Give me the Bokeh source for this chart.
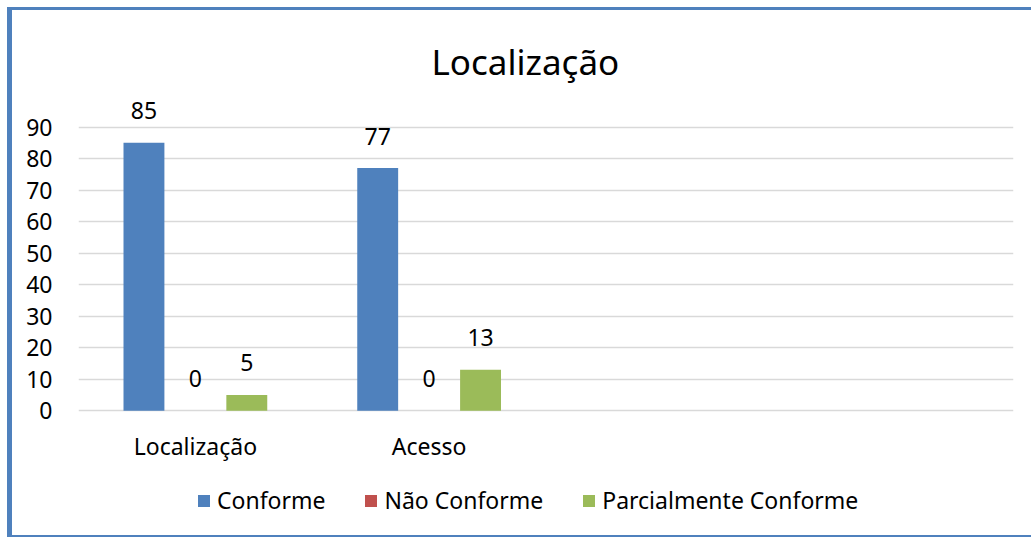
from bokeh.plotting import figure
from bokeh.models import FactorRange, FixedTicker, Legend, LegendItem, ColumnDataSource
from bokeh.transform import dodge
from bokeh.embed import file_html
from bokeh.resources import INLINE

categories = ["Localização", "Acesso", " ", "  "]
data_cats = ["Localização", "Acesso"]
conforme = [85, 77]
nao_conforme = [0, 0]
parcial = [5, 13]
series_names = ["Conforme", "Não Conforme", "Parcialmente Conforme"]
colors = ["#4f81bd", "#c0504d", "#9bbb59"]
y_ticks = [0, 10, 20, 30, 40, 50, 60, 70, 80, 90]

FONT = "Noto Sans"

p = figure(frame_width=935, frame_height=435,
           x_range=FactorRange(factors=categories, range_padding=0),
           y_range=(-38, 100), output_backend="svg", toolbar_location=None,
           min_border_left=66, min_border_right=18, min_border_top=85, min_border_bottom=5)
p.styles = {"margin-left": "7px", "margin-top": "7px",
            "border-left": "5px solid #4f81bd", "border-top": "3px solid #4f81bd",
            "border-bottom": "2px solid #4f81bd"}
p.outline_line_color = None

p.title.text = "Localização"
p.title.align = "left"
p.title.text_font = FONT
p.title.text_font_size = "35px"
p.title.text_font_style = "normal"
p.title.text_color = "#000000"
p.title.standoff = 21
p.title.offset = 353

source = ColumnDataSource(dict(cat=data_cats, c=conforme, n=nao_conforme, pc=parcial,
                               cl=[str(v) for v in conforme], nl=[str(v) for v in nao_conforme],
                               pl=[str(v) for v in parcial]))

offs = [-0.22, 0.0, 0.22]
fields = ["c", "n", "pc"]
lfields = ["cl", "nl", "pl"]
renderers = []
for off, f, lf, col in zip(offs, fields, lfields, colors):
    r = p.vbar(x=dodge("cat", off, range=p.x_range), top=f, width=0.175, source=source,
               fill_color=col, line_color=None)
    renderers.append(r)
    p.text(x=dodge("cat", off, range=p.x_range), y=f, text=lf, source=source,
           text_align="center", text_baseline="alphabetic", y_offset=-32,
           text_font_size="23px", text_color="#000000", text_font={"value": FONT})

# category labels along the (hidden) categorical axis, placed by the x scale
cat_src = ColumnDataSource(dict(cat=categories))
p.text(x="cat", y=0, text="cat", source=cat_src, text_align="center",
       text_baseline="alphabetic", y_offset=35, text_font_size="23px",
       text_color="#000000", text_font={"value": FONT})

p.yaxis.ticker = FixedTicker(ticks=y_ticks)
p.ygrid.ticker = FixedTicker(ticks=y_ticks)
p.ygrid.grid_line_color = "#d9d9d9"
p.ygrid.grid_line_width = 1.5
p.xgrid.grid_line_color = None
p.xaxis.visible = False

ax = p.yaxis
ax.axis_line_color = None
ax.major_tick_line_color = None
ax.minor_tick_line_color = None
ax.major_tick_out = 0
ax.major_tick_in = 0
ax.minor_tick_out = 0
ax.major_label_text_font = FONT
ax.major_label_text_font_size = "23px"
ax.major_label_text_color = "#000000"
ax.major_label_standoff = 26

legend = Legend(items=[LegendItem(label=n, renderers=[r]) for n, r in zip(series_names, renderers)],
                orientation="horizontal", location=(118, 14))
legend.border_line_color = None
legend.background_fill_alpha = 0
legend.label_text_font = FONT
legend.label_text_font_size = "23px"
legend.label_text_color = "#000000"
legend.glyph_width = 15
legend.glyph_height = 15
legend.label_standoff = 6
legend.spacing = 38
legend.padding = 0
legend.margin = 0
p.add_layout(legend)

open("out.html", "w").write(file_html(p, INLINE))
